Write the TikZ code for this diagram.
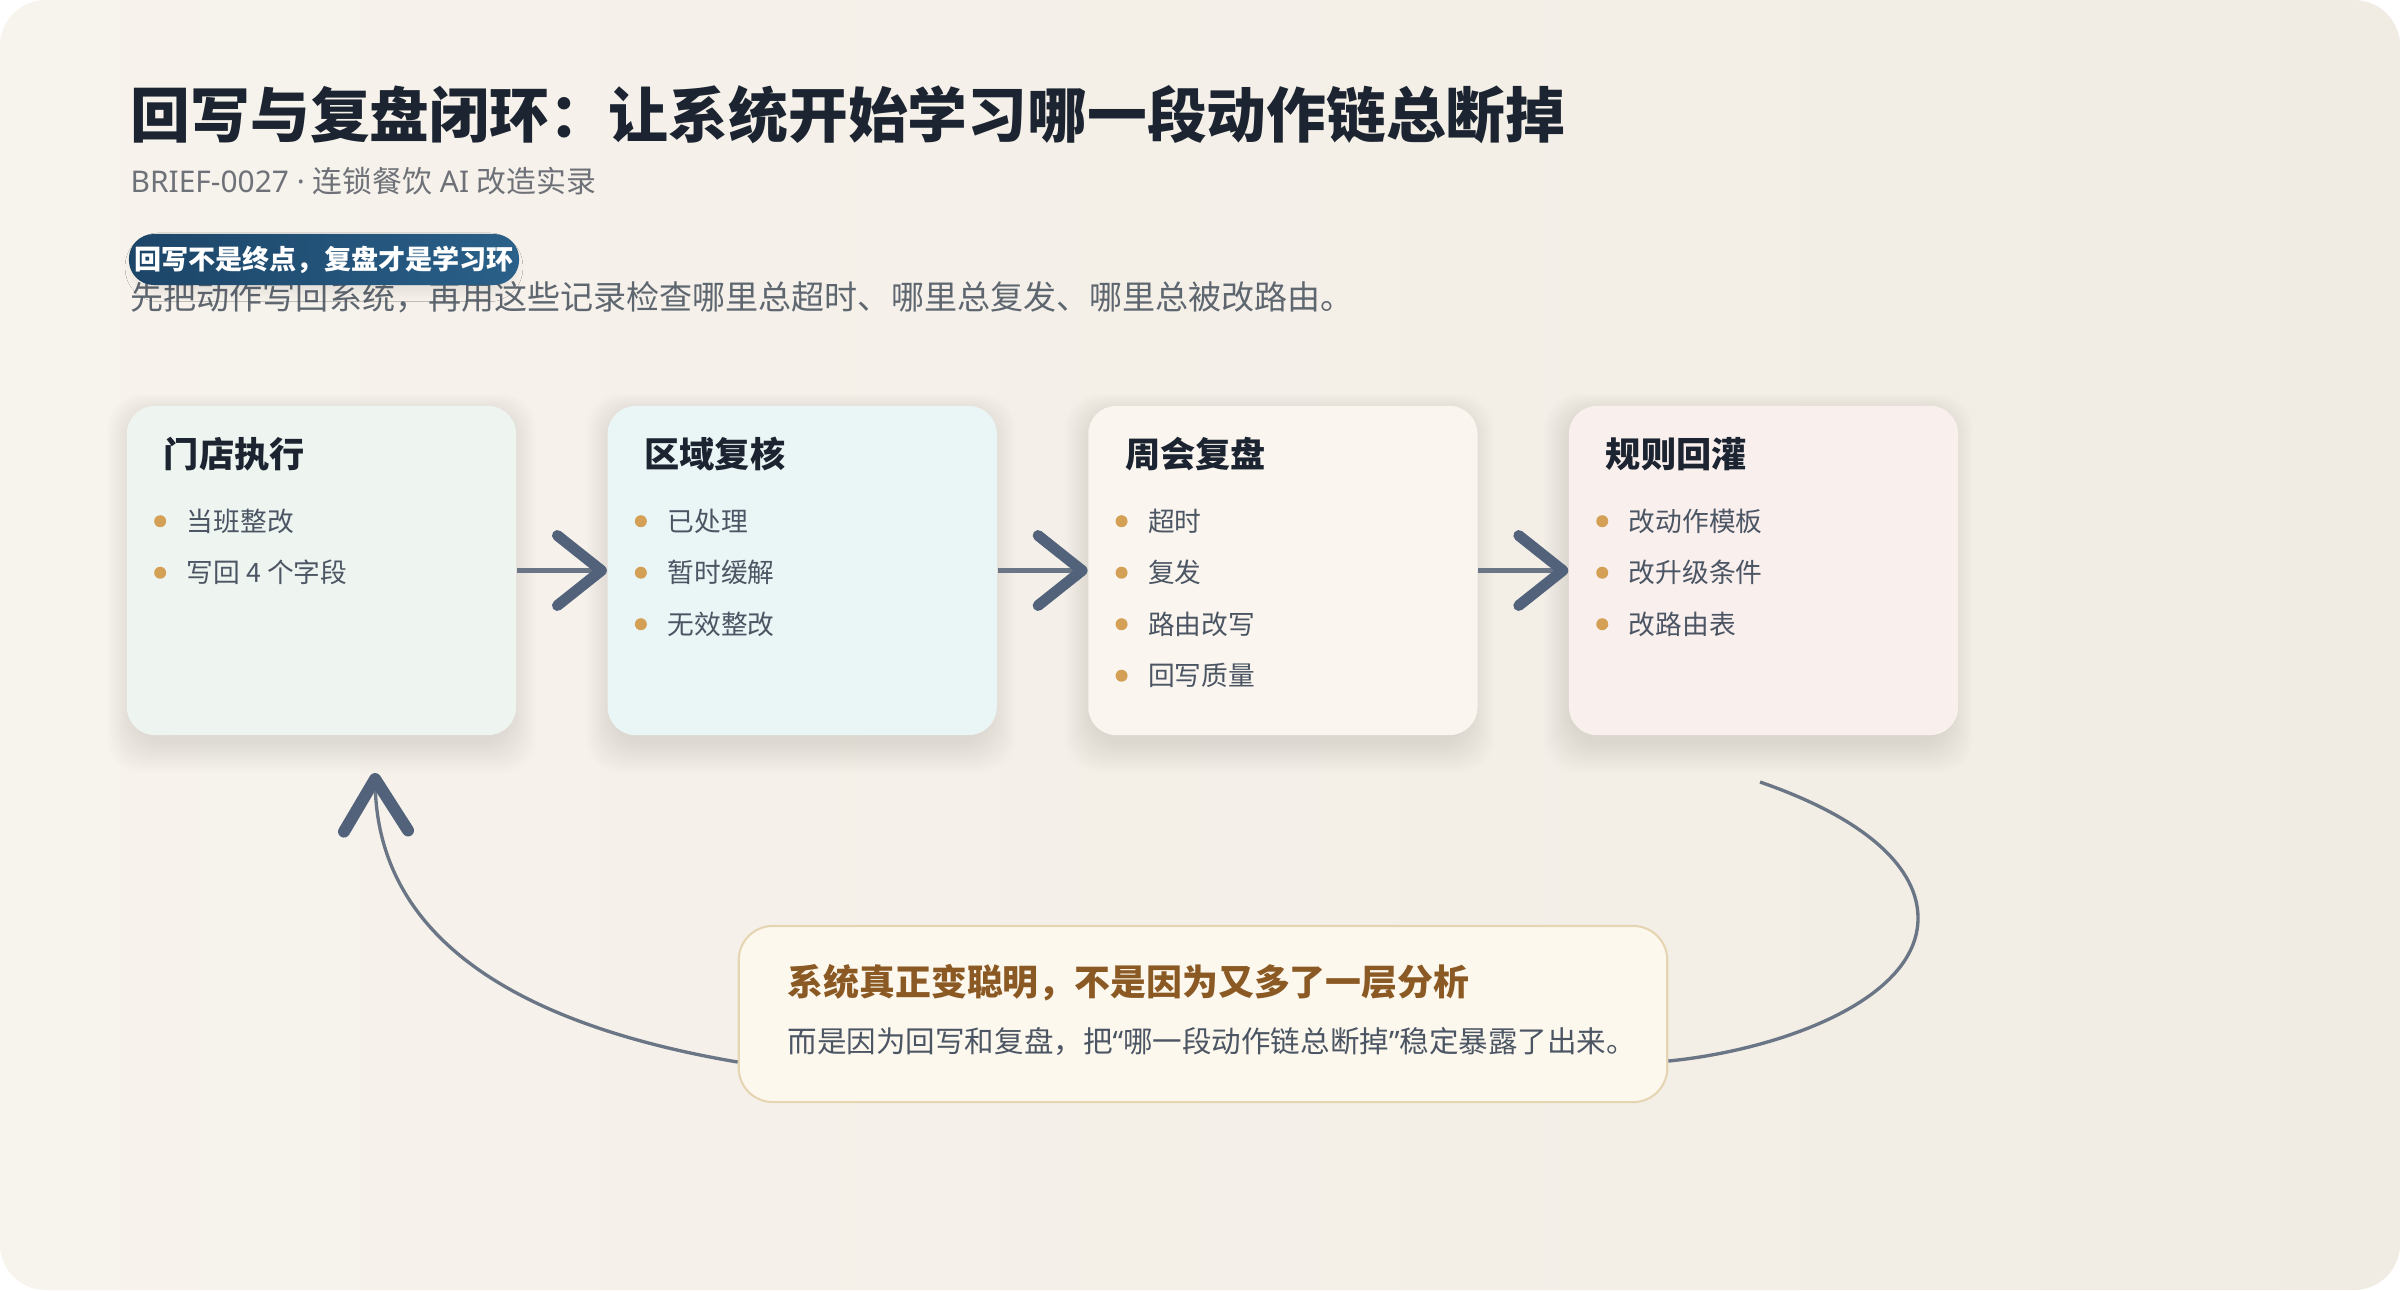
\documentclass[tikz,border=0pt]{standalone}
\usepackage{fontspec}
\setmainfont{Noto Sans CJK SC}
\newfontfamily\latinfont{Noto Sans}
\usepackage{xcolor}
\usetikzlibrary{arrows.meta,positioning,shadows.blur}
\definecolor{bgA}{HTML}{F7F3ED}
\definecolor{bgB}{HTML}{F1ECE3}
\definecolor{ink}{HTML}{1B2430}
\definecolor{subgray}{HTML}{6E7278}
\definecolor{descgray}{HTML}{5E6670}
\definecolor{badgeA}{HTML}{1C4568}
\definecolor{badgeB}{HTML}{2A6089}
\definecolor{itemgray}{HTML}{4B5563}
\definecolor{gold}{HTML}{D4A055}
\definecolor{linegray}{HTML}{6A7685}
\definecolor{arrowdark}{HTML}{52627A}
\definecolor{cardA}{HTML}{EEF5F0}
\definecolor{cardB}{HTML}{EAF5F5}
\definecolor{cardC}{HTML}{FAF6EF}
\definecolor{cardD}{HTML}{F9F0EE}
\definecolor{msgfill}{HTML}{FDF8EE}
\definecolor{msgedge}{HTML}{E6D5B3}
\definecolor{msgbrown}{HTML}{8B5A24}
\tikzset{
  card/.style={rectangle, rounded corners=2.8mm, fill=#1, minimum width=3.89cm, minimum height=3.29cm},
  card/.default={cardA},
  haze/.style={fill=black, fill opacity=0.007, rounded corners=3.4mm},
  head/.style={anchor=west, inner sep=0pt, text=ink, font=\fontsize{10}{12}\bfseries\selectfont},
  item/.style={anchor=west, inner sep=0pt, text=itemgray, font=\fontsize{7.6}{9}\selectfont},
  dot/.style={circle, fill=gold, inner sep=0pt, minimum size=1.2mm},
  flow/.style={draw=linegray, line width=1.15pt, -{Straight Barb[length=4.4mm, width=7mm, line width=3.1pt, round, color=arrowdark]}},
  loopline/.style={draw=linegray, line width=0.95pt},
}
\begin{document}
\begin{tikzpicture}[x=0.01cm, y=-0.01cm]
\useasboundingbox (0,0) rectangle (2400,1290);
\fill[white] (0,0) rectangle (2400,1290);
\shade[rounded corners=4.6mm, left color=bgA, right color=bgB] (0,0) rectangle (2400,1290);
% heading
\node[anchor=west, inner sep=0pt, text=ink, font=\fontsize{17}{20}\bfseries\selectfont] (title) at (130,115) {回写与复盘闭环：让系统开始学习哪一段动作链总断掉};
\node[anchor=west, inner sep=0pt, text=subgray, font=\fontsize{8.5}{10}\selectfont] (brief) at (130,181) {{\latinfont BRIEF-0027 · }连锁餐饮{\latinfont{} AI }改造实录};
\node[anchor=west, inner sep=0pt, text=descgray, font=\fontsize{9.4}{11}\selectfont] (desc) at (130,297) {先把动作写回系统，再用这些记录检查哪里总超时、哪里总复发、哪里总被改路由。};
\node[rounded corners=2.5mm, left color=badgeA, right color=badgeB, text=white, inner sep=0pt,
      minimum width=3.9cm, minimum height=0.51cm, font=\fontsize{7.7}{9}\bfseries\selectfont,
      blur shadow={shadow blur steps=12, shadow xshift=0mm, shadow yshift=-0.8mm, shadow scale=0.97,
                   shadow blur radius=1mm, shadow opacity=8}] (tag) at (324,259.5) {回写不是终点，复盘才是学习环};
% soft shadows under the cards
\foreach \cx in {321.5, 800.5, 1279.5, 1758.5} {
  \foreach \s in {0,...,11} {
    \fill[haze] (\cx-190-\s*2.2, 412-\s*1.6) rectangle (\cx+190+\s*2.2, 744+\s*2.6);
  }
}
% the four cards
\node[card=cardA] (store) at (321.5,570.5) {};
\node[card=cardB, right=9mm of store] (region) {};
\node[card=cardC, right=9mm of region] (weekly) {};
\node[card=cardD, right=9mm of weekly] (rules) {};
\foreach \n/\head in {store/门店执行, region/区域复核, weekly/周会复盘, rules/规则回灌} {
  \node[head] (\n-h) at ([xshift=3.7mm, yshift=-4.9mm]\n.north west) {\head};
}
\foreach \n/\k/\txt in {store/1/当班整改, store/2/写回 4 个字段,
                        region/1/已处理, region/2/暂时缓解, region/3/无效整改,
                        weekly/1/超时, weekly/2/复发, weekly/3/路由改写, weekly/4/回写质量,
                        rules/1/改动作模板, rules/2/改升级条件, rules/3/改路由表} {
  \path (\n.north west) ++(34,{116+51.5*(\k-1)}) node[dot] (\n-d\k) {}
        ++(26,0) node[item] (\n-t\k) {\txt};
}
\foreach \a/\b in {store/region, region/weekly, weekly/rules} {
  \draw[flow] (\a) -- (\b);
}
% takeaway
\node[rectangle, rounded corners=3.4mm, draw=msgedge, line width=0.6pt, fill=msgfill,
      minimum width=9.28cm, minimum height=1.76cm] (msg) at (1203,1014) {};
\node[anchor=west, inner sep=0pt, text=msgbrown, font=\fontsize{10.2}{12}\bfseries\selectfont] (msg-h) at (787,983) {系统真正变聪明，不是因为又多了一层分析};
\node[anchor=west, inner sep=0pt, text=itemgray, font=\fontsize{8.4}{10}\selectfont] (msg-t) at (787,1042) {而是因为回写和复盘，把{\latinfont “}哪一段动作链总断掉{\latinfont ”}稳定暴露了出来。};
% loop back
\coordinate (back) at (375,773);
\coordinate (out) at (1760,782);
\draw[loopline, -{Straight Barb[length=5.2mm, width=6.4mm, line width=3.4pt, round, color=arrowdark]}]
  ([yshift=-4.8mm]msg.west) .. controls (520,1025) and (378,940) .. (back);
\draw[loopline] (out) .. controls (1870,820) and (1918,870) .. (1918,918)
  .. controls (1918,1000) and (1780,1050) .. ([yshift=-4.7mm]msg.east);
\end{tikzpicture}
\end{document}
